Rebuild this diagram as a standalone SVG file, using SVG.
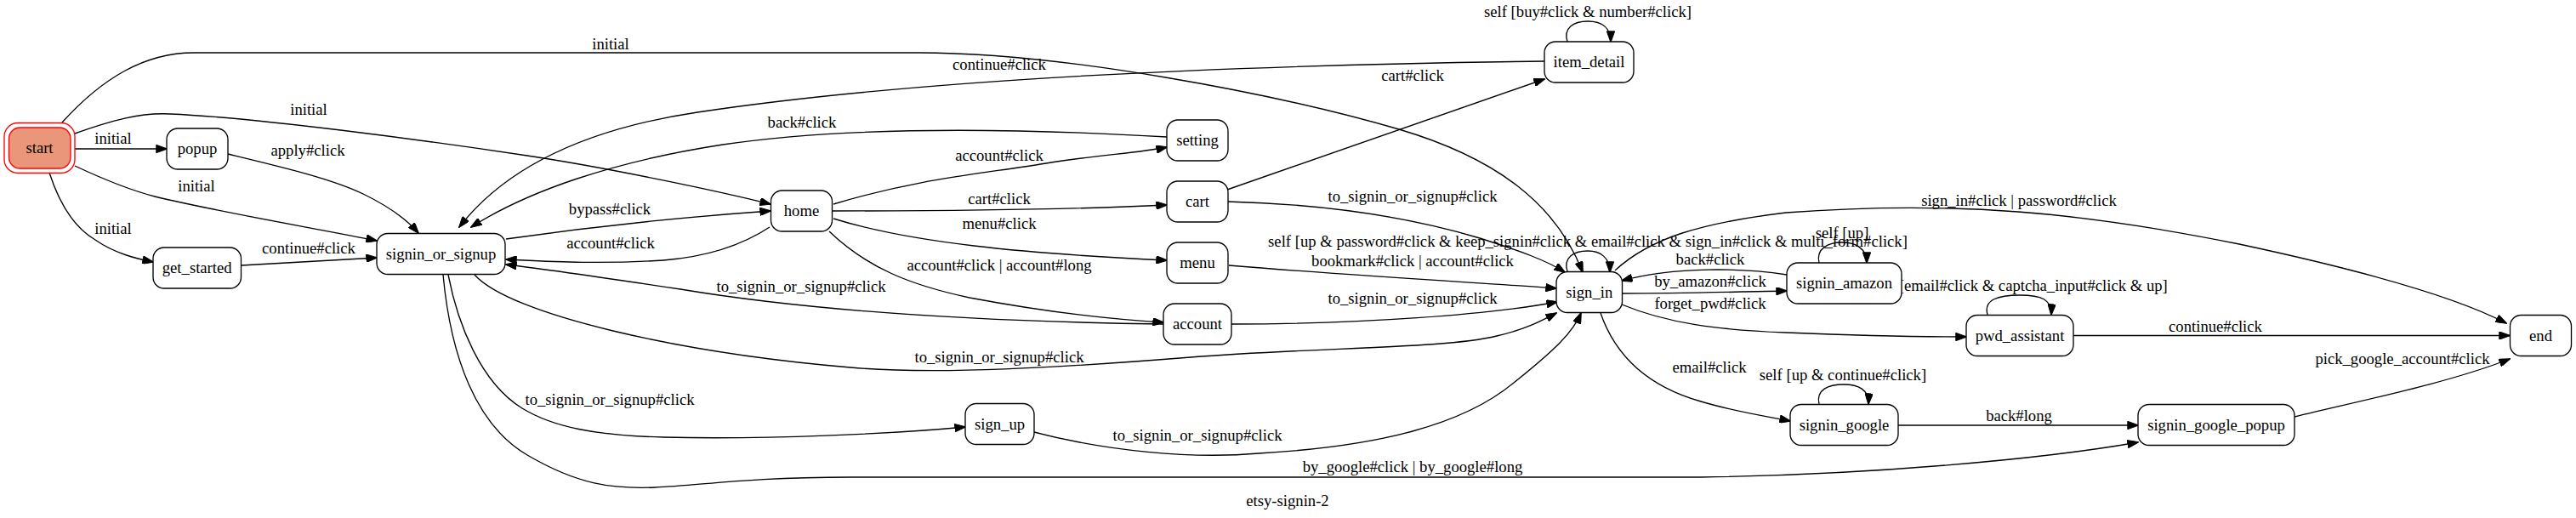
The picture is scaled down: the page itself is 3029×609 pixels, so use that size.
<svg xmlns="http://www.w3.org/2000/svg" width="3029" height="609" viewBox="0 0 3029 609">
<style>
text{font-family:"Liberation Serif","Times New Roman",serif;font-size:18.67px;fill:#000;text-anchor:middle}
.n rect{fill:#fff;stroke:#000;stroke-width:1.33}
.e path{fill:none;stroke:#000;stroke-width:1.33;marker-end:url(#ah)}
</style>
<defs>
<marker id="ah" viewBox="0 0 14 10" refX="13" refY="5" markerWidth="14" markerHeight="9.4" markerUnits="userSpaceOnUse" orient="auto">
<path d="M0,0 L14,5 L0,10 z" fill="#000" stroke="#000" stroke-width="1"/>
</marker>
</defs>
<rect width="3029" height="609" fill="#fff"/>
<g id="connectors" class="e">
<path d="M73,144 C120,92 170,62 228,62 L1080,62 C1250,62 1500,110 1645,152 C1760,186 1830,240 1861,320"/>
<path d="M88,175 L196,175"/>
<path d="M88,157 C130,142 165,132 200,134 C300,138 500,165 620,183 C720,198 850,226 906,240"/>
<path d="M88,195 C120,210 155,224 182,231 C260,250 380,270 443,283"/>
<path d="M58,203 C70,240 88,268 112,282 C135,298 160,304 180,308"/>
<path d="M268,181 C330,196 390,210 427,228 C460,244 480,260 492,274"/>
<path d="M283.5,312 L443,303"/>
<path d="M595,281 C700,266 820,254 906,248"/>
<path d="M905,267 C870,290 830,302 780,306 C700,311 640,307 595,305"/>
<path d="M980,240 C1080,210 1150,205 1230,192 C1290,182 1340,180 1372,173"/>
<path d="M979,248 C1100,248 1250,247 1372,241"/>
<path d="M980,257 C1070,285 1200,298 1372,306"/>
<path d="M975,272 C1020,315 1070,335 1140,350 C1220,365 1300,375 1368,379"/>
<path d="M1368,381 C1150,378 950,365 800,340 C700,325 640,316 595,311"/>
<path d="M1372,161 C1200,151 1000,148 850,170 C720,190 620,225 554,267"/>
<path d="M1816,72 C1500,76 1100,90 820,132 C700,150 600,190 540,267"/>
<path d="M1443,223 L1816,93"/>
<path d="M1443,237 C1560,240 1660,256 1740,280 C1790,296 1818,306 1840,320"/>
<path d="M1445,312 C1600,325 1750,333 1830,339"/>
<path d="M1448,381 C1600,381 1750,370 1831,355"/>
<path d="M558,323 C600,370 800,415 1000,432 C1100,441 1250,432 1400,420 C1550,408 1700,410 1760,395 C1795,387 1815,376 1830,368"/>
<path d="M527,323 C538,380 565,450 614,480 C650,502 700,512 780,514 C900,517 1050,510 1135,502"/>
<path d="M521,323 C530,420 560,500 620,535 C680,570 720,575 770,573 C830,570 880,561 1000,561 L2000,561 C2200,558 2400,540 2514,520"/>
<path d="M1216,508 C1300,530 1400,540 1480,533 C1620,525 1720,500 1780,450 C1830,410 1850,390 1859,368"/>
<path d="M1843,319 C1838,303 1850,295 1867,295 C1882,295 1893,303 1893,320"/>
<path d="M1907,345 C1980,345 2050,343 2101,342"/>
<path d="M2101,323 C2050,315 1970,313 1907,330"/>
<path d="M2139,309 C2135,292 2150,285 2166,285 C2182,285 2195,292 2195,309"/>
<path d="M1907,358 C1960,380 2020,388 2100,391 C2200,395 2260,396 2312,396"/>
<path d="M2337,370 C2332,352 2350,347 2375,347 C2400,347 2413,352 2412,370"/>
<path d="M2438,394.5 L2951,394.5"/>
<path d="M1899,318 C1940,280 2000,262 2100,250 C2300,235 2450,250 2633,287 C2750,312 2880,345 2947,380"/>
<path d="M1882,368 C1900,420 1940,455 2000,472 C2040,484 2070,488 2105,495"/>
<path d="M2139,475 C2135,458 2150,452 2168,452 C2185,452 2198,458 2197,475"/>
<path d="M2232,500 L2514,500"/>
<path d="M2698,490 C2780,470 2880,450 2951,422"/>
<path d="M1843,49 C1838,33 1850,25 1867,25 C1884,25 1894,33 1894,49"/>
</g>
<g id="edge-labels">
<text x="718" y="58">initial</text>
<text x="133" y="169">initial</text>
<text x="363" y="135">initial</text>
<text x="231" y="225">initial</text>
<text x="133" y="275">initial</text>
<text x="362" y="183">apply#click</text>
<text x="363" y="298">continue#click</text>
<text x="717" y="252">bypass#click</text>
<text x="718" y="292">account#click</text>
<text x="1175" y="189">account#click</text>
<text x="1175" y="240">cart#click</text>
<text x="1175" y="269">menu#click</text>
<text x="1175" y="318">account#click | account#long</text>
<text x="942" y="343">to_signin_or_signup#click</text>
<text x="943" y="150">back#click</text>
<text x="1175" y="82">continue#click</text>
<text x="1661" y="95">cart#click</text>
<text x="1661" y="237">to_signin_or_signup#click</text>
<text x="1661" y="313">bookmark#click | account#click</text>
<text x="1661" y="357">to_signin_or_signup#click</text>
<text x="1175" y="426">to_signin_or_signup#click</text>
<text x="717" y="476">to_signin_or_signup#click</text>
<text x="1661" y="555">by_google#click | by_google#long</text>
<text x="1408" y="518">to_signin_or_signup#click</text>
<text x="1867" y="290">self [up &amp; password#click &amp; keep_signin#click &amp; email#click &amp; sign_in#click &amp; multi_form#click]</text>
<text x="2011" y="337">by_amazon#click</text>
<text x="2011" y="311">back#click</text>
<text x="2166" y="280">self [up]</text>
<text x="2011" y="363">forget_pwd#click</text>
<text x="2375" y="342">self [email#click &amp; captcha_input#click &amp; up]</text>
<text x="2605" y="390">continue#click</text>
<text x="2374" y="242">sign_in#click | password#click</text>
<text x="2010" y="438">email#click</text>
<text x="2167" y="447">self [up &amp; continue#click]</text>
<text x="2374" y="495">back#long</text>
<text x="2825" y="428">pick_google_account#click</text>
<text x="1867" y="20">self [buy#click &amp; number#click]</text>
</g>
<g id="start">
<rect x="5" y="144.5" width="83" height="59" rx="16" fill="none" stroke="#ff0000" stroke-width="1.33"/>
<rect x="10.5" y="150" width="72.5" height="48" rx="13" fill="#e9967a" stroke="#ff0000" stroke-width="1.33"/>
<text x="46.5" y="180">start</text>
</g>
<g id="popup" class="n"><rect x="196" y="151" width="72" height="48" rx="13"/><text x="232" y="181">popup</text></g>
<g id="get_started" class="n"><rect x="180" y="291" width="103.5" height="48" rx="13"/><text x="231.7" y="321">get_started</text></g>
<g id="signin_or_signup" class="n"><rect x="443" y="274.5" width="151" height="48" rx="13"/><text x="518.5" y="304.5">signin_or_signup</text></g>
<g id="home" class="n"><rect x="906.5" y="224" width="72" height="48" rx="13"/><text x="942.5" y="254">home</text></g>
<g id="setting" class="n"><rect x="1372" y="141" width="72" height="48" rx="13"/><text x="1408" y="171">setting</text></g>
<g id="cart" class="n"><rect x="1372" y="213" width="72" height="48" rx="13"/><text x="1408" y="243">cart</text></g>
<g id="menu" class="n"><rect x="1372" y="285" width="72" height="48" rx="13"/><text x="1408" y="315">menu</text></g>
<g id="account" class="n"><rect x="1368" y="357" width="80" height="48" rx="13"/><text x="1408" y="387">account</text></g>
<g id="item_detail" class="n"><rect x="1816" y="49" width="105" height="48" rx="13"/><text x="1868.5" y="79">item_detail</text></g>
<g id="sign_in" class="n"><rect x="1830" y="319.5" width="77.5" height="48" rx="13"/><text x="1868.8" y="349.5">sign_in</text></g>
<g id="signin_amazon" class="n"><rect x="2101" y="309" width="135" height="48" rx="13"/><text x="2168.5" y="339">signin_amazon</text></g>
<g id="pwd_assistant" class="n"><rect x="2312" y="370.5" width="126" height="48" rx="13"/><text x="2375" y="400.5">pwd_assistant</text></g>
<g id="end" class="n"><rect x="2951.5" y="370.5" width="72" height="48" rx="13"/><text x="2987.5" y="400.5">end</text></g>
<g id="signin_google" class="n"><rect x="2105" y="475.5" width="127" height="48" rx="13"/><text x="2168.5" y="505.5">signin_google</text></g>
<g id="signin_google_popup" class="n"><rect x="2514" y="475.5" width="184" height="48" rx="13"/><text x="2606" y="505.5">signin_google_popup</text></g>
<g id="sign_up" class="n"><rect x="1135" y="474.5" width="81" height="48" rx="13"/><text x="1175.5" y="504.5">sign_up</text></g>
<text x="1514" y="595">etsy-signin-2</text>
</svg>
